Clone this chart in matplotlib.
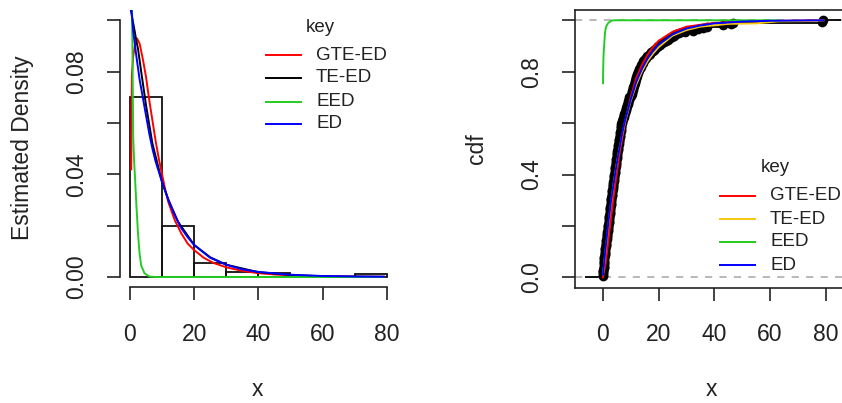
import matplotlib
matplotlib.use("Agg")
import matplotlib.pyplot as plt
import numpy as np

plt.rcParams['font.family'] = ['Liberation Sans', 'DejaVu Sans']

# ---------------- data ----------------
sample = [
    0.10, 0.13, 0.17, 0.20, 0.24, 0.28, 0.31, 0.35, 0.38, 0.42,
    0.45, 0.49, 0.53, 0.56, 0.60, 0.63, 0.67, 0.71, 0.75, 0.79,
    0.85, 0.90, 0.97, 1.03, 1.08, 1.15, 1.21, 1.27, 1.33, 1.40,
    1.45, 1.52, 1.58, 1.63, 1.70, 1.76, 1.82, 1.88, 1.93, 1.99,
    2.04, 2.10, 2.15, 2.19, 2.25, 2.31, 2.35, 2.40, 2.46, 2.50,
    2.55, 2.61, 2.65, 2.70, 2.76, 2.80, 2.85, 2.91, 2.95, 3.00,
    3.06, 3.12, 3.18, 3.24, 3.30, 3.36, 3.42, 3.48, 3.54, 3.60,
    3.66, 3.72, 3.78, 3.84, 3.90, 3.96, 4.02, 4.08, 4.14, 4.20,
    4.26, 4.32, 4.38, 4.44, 4.50, 4.56, 4.62, 4.68, 4.74, 4.80,
    4.86, 4.92, 4.98, 5.04, 5.10, 5.16, 5.22, 5.28, 5.34, 5.40,
    5.47, 5.54, 5.61, 5.68, 5.75, 5.82, 5.89, 5.96, 6.03, 6.10,
    6.17, 6.24, 6.31, 6.38, 6.45, 6.52, 6.59, 6.66, 6.73, 6.80,
    6.94, 7.08, 7.22, 7.36, 7.50, 7.64, 7.78, 7.92, 8.06, 8.20,
    8.34, 8.48, 8.62, 8.76, 8.90, 9.04, 9.18, 9.32, 9.46, 9.60,
    10.1, 10.2, 10.4, 10.5, 10.6, 10.8, 10.9, 11.0, 11.2, 11.3,
    11.4, 11.6, 11.7, 11.8, 12.0, 12.1, 12.2, 12.4, 12.5, 12.6,
    12.9, 13.1, 13.4, 13.6, 13.9, 14.1, 14.4, 14.6, 14.8, 15.0,
    15.5, 16.0, 16.5, 17.0, 17.4, 17.9, 18.4, 18.9, 19.3, 19.8,
    20.4, 21.1, 21.9, 22.6, 23.3, 24.0, 24.8, 25.6, 26.3, 27.5,
    29.4, 32.4, 34.1, 36.0, 37.3, 43.2, 45.9, 46.8, 78.7, 79.1,
]
hist_breaks = [0, 10, 20, 30, 40, 50, 60, 70, 80]

model_names = ['GTE-ED', 'TE-ED', 'EED', 'ED']

# fitted densities (left panel)
gte_dens_x = [0.4, 0.5, 0.6, 1.0, 1.5, 2.2, 3.0, 4.0, 5.0, 6.0, 7.0, 8.0, 9.0, 10, 11, 12,
              14, 16, 18, 20, 23, 26, 30, 35, 40, 45, 50, 55, 60, 70, 79.1]
gte_dens_y = [0.042, 0.060, 0.079, 0.086, 0.090, 0.093, 0.091, 0.085, 0.078, 0.069, 0.061,
              0.053, 0.046, 0.040, 0.034, 0.029, 0.022, 0.017, 0.013, 0.0105, 0.0075, 0.0055,
              0.0038, 0.0024, 0.0015, 0.0010, 0.0007, 0.0004, 0.0003, 0.0001, 0.0001]
te_dens_x = [0.3, 0.7, 1.3, 2.0, 2.5, 3.5, 5, 7, 10, 12, 15, 20, 25, 30, 40, 50, 60, 70, 79.1]
te_dens_y = [0.104, 0.101, 0.097, 0.092, 0.089, 0.080, 0.067, 0.052, 0.037, 0.030, 0.0215,
             0.0125, 0.0077, 0.0048, 0.0019, 0.0008, 0.0003, 0.0002, 0.0001]
eed_dens_x = [0.5, 0.8, 1.0, 1.3, 1.6, 2.0, 2.5, 3.0, 3.5, 4.5, 6.0, 8.0, 20, 40, 60, 79.1]
eed_dens_y = [0.12, 0.085, 0.055, 0.045, 0.038, 0.028, 0.017, 0.009, 0.0045, 0.0015, 0.0002,
              0.0, 0.0, 0.0, 0.0, 0.0]
ed_dens_x = [0.1, 1, 2, 3, 4, 5, 6, 7, 8, 10, 12, 14, 16, 18, 20, 25, 30, 35, 40, 50, 60, 70, 79.1]
ed_dens_y = [0.110, 0.096, 0.086, 0.077, 0.070, 0.063, 0.056, 0.050, 0.045, 0.037, 0.030, 0.024,
             0.019, 0.0155, 0.0125, 0.0075, 0.0048, 0.0030, 0.0020, 0.0009, 0.0004, 0.0002, 0.0001]

# fitted CDFs (right panel)
gte_cdf_x = [0.1, 0.5, 1, 2, 3, 4, 5, 6, 7, 8, 10, 12, 14, 16, 18, 20, 25, 30, 40, 50, 79.1]
gte_cdf_y = [0.0, 0.025, 0.05, 0.14, 0.23, 0.32, 0.40, 0.48, 0.54, 0.60, 0.70, 0.775, 0.825,
             0.865, 0.895, 0.92, 0.955, 0.975, 0.99, 0.996, 1.0]
te_cdf_x = [0.1, 1, 2, 3, 4, 5, 6, 7, 8, 10, 12, 14, 16, 18, 20, 25, 30, 35, 45, 55, 63, 72, 79.1]
te_cdf_y = [0.01, 0.10, 0.20, 0.29, 0.37, 0.44, 0.50, 0.555, 0.605, 0.685, 0.75, 0.80, 0.84,
            0.87, 0.895, 0.94, 0.962, 0.975, 0.986, 0.988, 0.996, 0.997, 1.0]
eed_cdf_x = [0.10, 0.15, 0.30, 0.80, 1.20, 2.00, 3.20, 4.50, 20, 40, 63]
eed_cdf_y = [0.755, 0.80, 0.865, 0.95, 0.975, 0.99, 0.999, 1.0, 1.0, 1.0, 1.0]
ed_cdf_x = [0.1, 1, 2, 3, 4, 5, 6, 7, 8, 10, 12, 14, 16, 18, 20, 25, 30, 35, 40, 50, 60, 70, 79.1]
ed_cdf_y = [0.01, 0.11, 0.21, 0.30, 0.37, 0.44, 0.50, 0.56, 0.61, 0.69, 0.76, 0.81, 0.85, 0.88,
            0.905, 0.945, 0.968, 0.98, 0.988, 0.995, 0.998, 0.999, 1.0]

x_ticks = [0, 20, 40, 60, 80]
dens_ticks = [0.00, 0.02, 0.04, 0.06, 0.08, 0.10]
dens_labels = ['0.00', '', '0.04', '', '0.08', '']
cdf_ticks = [0.0, 0.2, 0.4, 0.6, 0.8, 1.0]
cdf_labels = ['0.0', '', '0.4', '', '0.8', '']

# ---------------- styling ----------------
RED, BLK, GRN, BLU, ORG = '#FF0000', '#000000', '#22CC22', '#0000FF', '#F5C710'
LW = 1.4
FS = 16.5
LFS = 13.5
W, H = 842, 403

fig = plt.figure(figsize=(W / 100, H / 100), dpi=100)


def px_axes(left, top, right, bottom):
    return fig.add_axes([left / W, 1 - bottom / H, (right - left) / W, (bottom - top) / H])


def style_ticks(ax):
    ax.tick_params(direction='out', length=9.5, width=1.2, labelsize=FS, colors='#222222')
    ax.tick_params(axis='x', pad=16)
    ax.tick_params(axis='y', pad=13)
    for lab in ax.get_yticklabels():
        lab.set_rotation(90)
        lab.set_va('center')


# ---------- left panel: histogram + densities ----------
ax1 = px_axes(119.7, 10.2, 397.0, 287.3)
ax1.hist(sample, bins=hist_breaks, density=True, fill=False, edgecolor='#111111', linewidth=1.3)
ax1.plot(gte_dens_x, gte_dens_y, color=RED, lw=LW)
ax1.plot(te_dens_x, te_dens_y, color=BLK, lw=LW)
ax1.plot(eed_dens_x, eed_dens_y, color=GRN, lw=LW)
ax1.plot(ed_dens_x, ed_dens_y, color=BLU, lw=LW)
ax1.set_xlim(-3.2, 83.2)
ax1.set_ylim(-0.004, 0.104)
for s in ['top', 'right']:
    ax1.spines[s].set_visible(False)
for s in ['left', 'bottom']:
    ax1.spines[s].set_linewidth(1.2)
    ax1.spines[s].set_color('#222222')
ax1.spines['left'].set_bounds(0, 0.10)
ax1.spines['bottom'].set_bounds(0, 80)
ax1.set_xticks(x_ticks)
ax1.set_xticklabels([str(v) for v in x_ticks])
ax1.set_yticks(dens_ticks)
ax1.set_yticklabels(dens_labels)
style_ticks(ax1)
ax1.set_xlabel('x', fontsize=FS, va='center', color='#222222')
ax1.xaxis.set_label_coords(0.497, -0.368)
ax1.set_ylabel('Estimated Density', fontsize=FS, va='center', color='#222222')
ax1.yaxis.set_label_coords(-0.352, 0.503)

# ---------- right panel: ECDF + fitted CDFs ----------
ax2 = px_axes(574.8, 10.0, 851.6, 287.6)
ax2.set_xlim(-10.0, 89.2)
ax2.set_ylim(-0.04, 1.04)
ax2.axhline(0, color='#B3B3B3', lw=1.3, ls=(0, (4, 4)), zorder=1)
ax2.axhline(1, color='#B3B3B3', lw=1.3, ls=(0, (4, 4)), zorder=1)
xs = np.sort(np.asarray(sample))
n = len(xs)
Fv = np.arange(1, n + 1) / n
ax2.hlines(Fv[:-1], xs[:-1], xs[1:], color=BLK, lw=1.3, zorder=2)
ax2.hlines([0.0], [-6.3], [xs[0]], color=BLK, lw=1.3, zorder=2)
ax2.hlines([1.0], [xs[-1]], [85.5], color=BLK, lw=1.3, zorder=2)
ax2.plot(xs, Fv, 'o', ms=7, color=BLK, mew=0, zorder=2)
ax2.plot(gte_cdf_x, gte_cdf_y, color=RED, lw=LW, zorder=3)
ax2.plot(te_cdf_x, te_cdf_y, color=ORG, lw=LW, zorder=3)
ax2.plot(eed_cdf_x, eed_cdf_y, color=GRN, lw=LW, zorder=3)
ax2.plot(ed_cdf_x, ed_cdf_y, color=BLU, lw=LW, zorder=3)
for s in ax2.spines.values():
    s.set_linewidth(1.2)
    s.set_color('#222222')
ax2.set_xticks(x_ticks)
ax2.set_xticklabels([str(v) for v in x_ticks])
ax2.set_yticks(cdf_ticks)
ax2.set_yticklabels(cdf_labels)
style_ticks(ax2)
ax2.set_xlabel('x', fontsize=FS, va='center', color='#222222')
ax2.xaxis.set_label_coords(0.495, -0.368)
ax2.set_ylabel('cdf', fontsize=FS, va='center', color='#222222')
ax2.yaxis.set_label_coords(-0.354, 0.5)

# ---------- legends (drawn in pixel space) ----------
ov = fig.add_axes([0, 0, 1, 1], zorder=10)
ov.set_xlim(0, W)
ov.set_ylim(H, 0)
ov.axis('off')
ov.patch.set_visible(False)


def draw_key(x_line0, x_line1, x_text, title_x, title_y, ys, colors):
    ov.text(title_x, title_y, 'key', fontsize=LFS, ha='left', va='center', color='#222222')
    for name, yy, c in zip(model_names, ys, colors):
        ov.plot([x_line0, x_line1], [yy, yy], color=c, lw=LW)
        ov.text(x_text, yy, name, fontsize=LFS, ha='left', va='center', color='#222222')


draw_key(266, 301, 316, 306, 28, [55, 78, 102, 124], [RED, BLK, GRN, BLU])
draw_key(720, 755, 770, 760.5, 168, [196, 219, 242, 265], [RED, ORG, GRN, BLU])

fig.savefig('out.png', dpi=100)
